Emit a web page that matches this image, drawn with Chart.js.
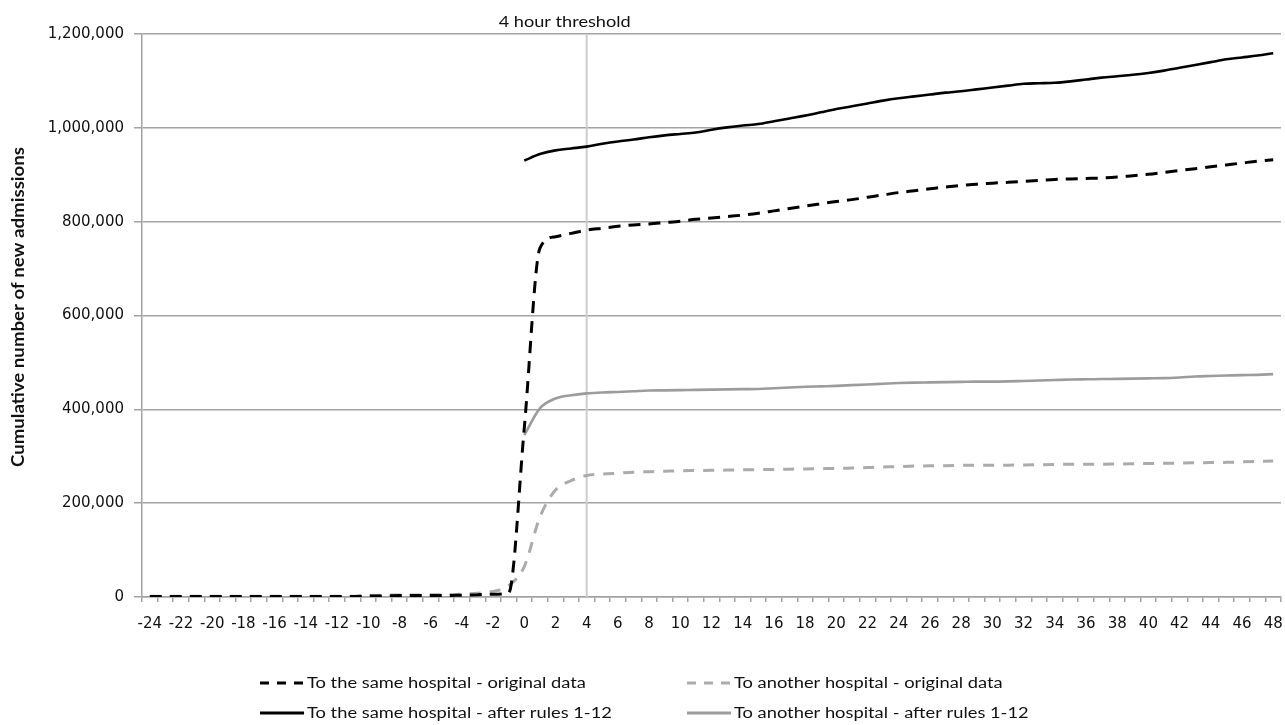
<!DOCTYPE html>
<html>
<head>
<meta charset="utf-8">
<script src="https://cdn.jsdelivr.net/npm/chart.js@4/dist/chart.umd.min.js"></script>
<style>
  html, body { margin: 0; padding: 0; background: #ffffff; }
  #wrap { position: relative; width: 1285px; height: 725px; }
</style>
</head>
<body>
<div id="wrap"><canvas id="c"></canvas></div>
<script>
// ---- data ----
const hours = [-24,-23,-22,-21,-20,-19,-18,-17,-16,-15,-14,-13,-12,-11,-10,-9,-8,-7,-6,-5,-4,-3,-2,-1,
  0,1,2,3,4,5,6,7,8,9,10,11,12,13,14,15,16,17,18,19,20,21,22,23,24,25,26,27,28,29,30,31,32,33,34,35,36,37,38,39,40,41,42,43,44,45,46,47,48];

const sameHospitalOriginal = [1000,1000,1000,1000,1000,1000,1000,1000,1000,1000,1000,1000,1000,1000,
  2000,2000,3000,3000,3000,3000,4000,5000,6000,9000,
  360000,743000,768000,775000,782000,786000,790000,793000,795000,798000,
  801000,805000,808000,811000,814000,818000,823000,828000,833000,838000,
  843000,847000,852000,857000,862000,866000,870000,874000,877000,880000,
  882000,884000,886000,888000,890000,891000,892000,893000,895000,898000,
  901000,905000,909000,913000,917000,921000,925000,929000,932000];

const anotherHospitalOriginal = [1500,1500,1500,1500,1500,1500,1500,1500,1500,1500,1500,1500,1500,1500,
  3000,4000,4000,4000,5000,5000,6000,8000,12000,24000,
  65000,170000,228000,248000,259000,262000,264000,266000,267000,268000,
  269000,269500,270000,270500,271000,271500,272000,272500,273000,273500,
  274000,275000,276000,277000,278000,279000,279500,280000,280500,281000,
  281000,281000,281500,282000,282500,283000,283000,283000,283500,284000,
  284500,285000,285500,286000,286500,287000,288000,289000,290000];

const sameHospitalRules = [null,null,null,null,null,null,null,null,null,null,null,null,
  null,null,null,null,null,null,null,null,null,null,null,null,
  930000,944000,952000,956000,960000,966000,971000,975000,980000,984000,
  987000,990000,996000,1001000,1005000,1008000,1014000,1020000,1026000,1033000,
  1040000,1046000,1052000,1058000,1063000,1067000,1071000,1075000,1078000,1082000,
  1086000,1090000,1094000,1095000,1096000,1099000,1103000,1107000,1110000,1113000,
  1117000,1122000,1128000,1134000,1140000,1146000,1150000,1154000,1159000];

const anotherHospitalRules = [null,null,null,null,null,null,null,null,null,null,null,null,
  null,null,null,null,null,null,null,null,null,null,null,null,
  345000,402000,423000,430000,434000,436000,437000,438500,440000,440500,
  441000,441500,442000,442500,443000,443500,445000,446500,448000,449000,
  450000,451500,453000,454500,456000,457000,457500,458000,458500,459000,
  459000,459500,460500,461500,462500,463500,464000,464500,465000,465500,
  466000,466500,468000,470000,471000,472000,473000,473500,475000];

const seriesLabels = [
  'To the same hospital - original data',
  'To another hospital - original data',
  'To the same hospital - after rules 1-12',
  'To another hospital - after rules 1-12'
];
const thresholdHour = 4;
const thresholdLabel = '4 hour threshold';
const yAxisTitle = 'Cumulative number of new admissions';
const yMin = 0, yMax = 1200000, yStep = 200000;

// ---- styling ----
const GRID = '#a3a3a3';
const GRAY_SOLID = '#9c9c9c';
const GRAY_DASH = '#ababab';
const STRETCH = 1.18;

function stretchedText(ctx, text, x, y, align, sx) {
  ctx.save();
  ctx.translate(x, y);
  ctx.scale(sx, 1);
  ctx.textAlign = align;
  ctx.fillText(text, 0, 0);
  ctx.restore();
}

const thresholdPlugin = {
  id: 'threshold',
  beforeDatasetsDraw(chart) {
    const {ctx, chartArea, scales} = chart;
    const x = scales.x.getPixelForValue(hours.indexOf(thresholdHour));
    ctx.save();
    ctx.strokeStyle = '#cdcdcd';
    ctx.lineWidth = 2;
    ctx.beginPath();
    ctx.moveTo(x, chartArea.top);
    ctx.lineTo(x, chartArea.bottom);
    ctx.stroke();
    ctx.fillStyle = '#111';
    ctx.font = '15.5px Lato';
    ctx.textBaseline = 'middle';
    stretchedText(ctx, thresholdLabel, x - 22, chartArea.top - 12, 'center', 1.17);
    ctx.restore();
  }
};

const yTitlePlugin = {
  id: 'yTitle',
  afterDraw(chart) {
    const {ctx} = chart;
    ctx.save();
    ctx.translate(19, 307);
    ctx.rotate(-Math.PI / 2);
    ctx.scale(1.13, 1);
    ctx.fillStyle = '#111';
    ctx.font = 'bold 16.5px Lato';
    ctx.textAlign = 'center';
    ctx.textBaseline = 'middle';
    ctx.fillText(yAxisTitle, 0, 0);
    ctx.restore();
  }
};

const legendPlugin = {
  id: 'customLegend',
  afterDraw(chart) {
    const {ctx} = chart;
    const cols = [260, 687];
    const rows = [683, 713];
    const sampleW = 44;
    ctx.save();
    chart.data.datasets.forEach((ds, i) => {
      const cx = cols[i % 2];
      const cy = rows[Math.floor(i / 2)];
      ctx.strokeStyle = ds.borderColor;
      ctx.lineWidth = 3;
      ctx.setLineDash(ds.borderDash && ds.borderDash.length ? [9, 8] : []);
      ctx.beginPath();
      ctx.moveTo(cx, cy);
      ctx.lineTo(cx + sampleW, cy);
      ctx.stroke();
      ctx.setLineDash([]);
      ctx.fillStyle = '#111';
      ctx.font = '15.5px Lato';
      ctx.textBaseline = 'middle';
      stretchedText(ctx, ds.label, cx + sampleW + 3, cy, 'left', STRETCH);
    });
    ctx.restore();
  }
};

new Chart(document.getElementById('c'), {
  type: 'line',
  data: {
    labels: hours.map(String),
    datasets: [
      { label: seriesLabels[0], data: sameHospitalOriginal, borderColor: '#000', borderWidth: 3, borderDash: [12, 8] },
      { label: seriesLabels[1], data: anotherHospitalOriginal, borderColor: GRAY_DASH, borderWidth: 3, borderDash: [11, 9] },
      { label: seriesLabels[2], data: sameHospitalRules, borderColor: '#000', borderWidth: 2.6, borderDash: [] },
      { label: seriesLabels[3], data: anotherHospitalRules, borderColor: GRAY_SOLID, borderWidth: 2.6, borderDash: [] }
    ]
  },
  options: {
    responsive: true,
    maintainAspectRatio: false,
    animation: false,
    layout: { padding: { left: 0, right: 4, top: 34, bottom: 0 } },
    elements: {
      point: { radius: 0, hoverRadius: 0 },
      line: { cubicInterpolationMode: 'monotone', fill: false, borderCapStyle: 'butt' }
    },
    plugins: {
      legend: { display: false },
      tooltip: { enabled: false },
      title: { display: false }
    },
    scales: {
      x: {
        type: 'category',
        offset: true,
        grid: { display: true, drawOnChartArea: false, drawTicks: true, tickLength: 5, color: GRID, lineWidth: 1.5, offset: true },
        border: { display: true, color: GRID, width: 1.5 },
        ticks: {
          autoSkip: false, maxRotation: 0, minRotation: 0, padding: 13,
          color: '#111', font: { family: 'DejaVu Sans', size: 15 },
          callback: function (v, i) { return hours[i] % 2 === 0 ? String(hours[i]) : ''; }
        },
        afterFit(scale) { scale.height = 128; scale.paddingLeft = 0; scale.paddingRight = 0; }
      },
      y: {
        min: yMin, max: yMax,
        grid: { color: GRID, lineWidth: 1.5, tickLength: 8, drawTicks: true },
        border: { display: true, color: GRID, width: 1.5 },
        ticks: {
          stepSize: yStep, padding: 10, color: '#111',
          font: { family: 'DejaVu Sans', size: 15 },
          callback: v => v.toLocaleString('en-US')
        },
        title: { display: false },
        afterFit(scale) { scale.width = 142; }
      }
    }
  },
  plugins: [thresholdPlugin, yTitlePlugin, legendPlugin]
});
</script>
</body>
</html>
